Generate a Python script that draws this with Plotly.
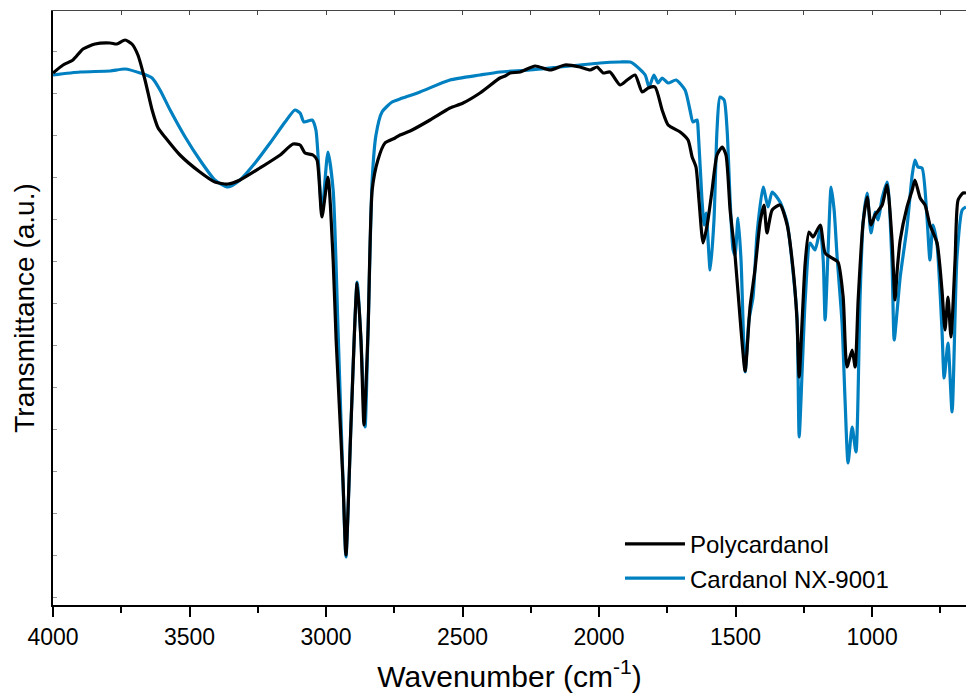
import plotly.graph_objects as go

# Polycardanol (black)
poly_wn = [4000, 3963, 3927, 3890, 3846, 3791, 3766, 3736, 3711, 3689, 3663, 3637, 3615, 3590,
           3535, 3462, 3407, 3359, 3315, 3242, 3168, 3121, 3095, 3077, 3048, 3033, 3015, 2993,
           2974, 2963, 2938, 2927, 2908, 2886, 2872, 2861, 2846, 2831, 2810, 2784, 2747, 2729,
           2692, 2619, 2546, 2498, 2436, 2363, 2344, 2326, 2289, 2234, 2179, 2125, 2070, 2033,
           2007, 1985, 1960, 1923, 1897, 1868, 1842, 1820, 1795, 1769, 1747, 1703, 1674, 1659,
           1645, 1634, 1619, 1604, 1586, 1568, 1549, 1535, 1520, 1502, 1480, 1465, 1447, 1429,
           1410, 1396, 1385, 1366, 1337, 1311, 1289, 1275, 1267, 1256, 1245, 1231, 1216, 1190,
           1172, 1147, 1125, 1106, 1092, 1073, 1062, 1051, 1033, 1018, 1004, 989, 963, 945,
           927, 916, 908, 897, 872, 853, 843, 824, 806, 788, 762, 744, 733, 722, 711, 696, 685,
           667, 656]
poly_t = [532, 540, 545, 556, 561, 562, 561, 565, 561, 550, 525, 495, 477, 468,
          450, 433, 423, 421, 425, 437, 450, 461, 460, 452, 450, 445, 388, 428,
          345, 265, 125, 50, 185, 322, 265, 180, 275, 415, 445, 462, 467, 470,
          474, 485, 497, 502, 512, 527, 529, 532, 533, 539, 535, 540, 538, 535,
          538, 532, 533, 520, 525, 530, 513, 517, 518, 495, 480, 473, 465, 448,
          438, 405, 362, 380, 415, 450, 458, 450, 395, 350, 275, 234, 298, 335,
          383, 400, 372, 395, 400, 380, 335, 285, 228, 285, 342, 373, 368, 380,
          352, 347, 343, 308, 238, 255, 238, 305, 382, 408, 380, 390, 400, 420,
          365, 305, 335, 365, 398, 415, 425, 407, 400, 380, 362, 315, 275, 308, 268, 345, 405,
          412, 412]

# Cardanol NX-9001 (blue)
card_wn = [4000, 3901, 3791, 3736, 3681, 3637, 3608, 3571, 3516, 3462, 3407, 3359, 3315, 3260,
           3205, 3150, 3114, 3095, 3081, 3051, 3037, 3015, 2993, 2974, 2956, 2938, 2927, 2908,
           2886, 2872, 2857, 2846, 2831, 2817, 2795, 2758, 2729, 2656, 2546, 2436, 2363, 2253,
           2143, 2070, 1996, 1923, 1886, 1868, 1831, 1817, 1799, 1784, 1769, 1747, 1718, 1685,
           1667, 1656, 1641, 1637, 1623, 1615, 1608, 1593, 1579, 1568, 1557, 1542, 1531, 1520,
           1509, 1502, 1491, 1480, 1465, 1451, 1436, 1421, 1399, 1381, 1366, 1337, 1311, 1289,
           1275, 1267, 1256, 1245, 1227, 1209, 1190, 1179, 1172, 1161, 1150, 1139, 1128, 1110,
           1099, 1088, 1073, 1059, 1044, 1033, 1018, 1004, 989, 978, 963, 945, 927, 919, 908,
           897, 872, 853, 843, 832, 817, 799, 788, 777, 762, 744, 736, 722, 707, 689, 670, 656]
card_t = [530, 533, 534, 536, 532, 527, 515, 495, 468, 445, 425, 418, 425, 442,
          462, 483, 495, 492, 483, 485, 475, 393, 453, 415, 275, 125, 48, 185,
          323, 265, 178, 275, 425, 470, 493, 503, 506, 513, 525, 530, 533, 535,
          538, 540, 542, 543, 543, 540, 530, 518, 530, 522, 527, 522, 525, 515,
          495, 483, 485, 475, 405, 380, 392, 335, 385, 475, 508, 505, 475, 405,
          355, 350, 387, 345, 233, 285, 308, 372, 418, 398, 413, 403, 382, 332,
          288, 168, 235, 305, 362, 355, 375, 345, 285, 355, 418, 395, 348, 282,
          205, 142, 178, 153, 308, 382, 412, 372, 393, 385, 407, 423, 342, 265, 295,
          328, 378, 430, 445, 438, 437, 388, 345, 380, 360, 275, 227, 262, 193, 348, 395, 398]

series_names = ["Polycardanol", "Cardanol NX-9001"]
series_colors = ["#000000", "#0080C0"]

FONT = "Arial, Liberation Sans, sans-serif"

fig = go.Figure()
fig.add_trace(go.Scatter(x=card_wn, y=card_t, mode="lines", name=series_names[1],
                         line=dict(color=series_colors[1], width=3.2, shape="spline", smoothing=0.6)))
fig.add_trace(go.Scatter(x=poly_wn, y=poly_t, mode="lines", name=series_names[0],
                         line=dict(color=series_colors[0], width=3.2, shape="spline", smoothing=0.6)))
# top mirror axis (ticks inside)
fig.add_trace(go.Scatter(x=[], y=[], xaxis="x2", showlegend=False, hoverinfo="skip"))

fig.update_layout(
    width=966, height=693,
    margin=dict(l=53, r=0, t=11, b=88),
    paper_bgcolor="white", plot_bgcolor="white",
    font=dict(family=FONT, color="black", size=22),
    showlegend=True,
    legend=dict(x=0.621, y=0.14, xanchor="left", yanchor="top",
                traceorder="reversed", bgcolor="rgba(0,0,0,0)",
                font=dict(family=FONT, size=24, color="black"),
                tracegroupgap=0, itemwidth=60),
    xaxis=dict(range=[4000, 656], showgrid=False, zeroline=False,
               showline=True, linecolor="black", linewidth=2,
               ticks="outside", ticklen=10, tickwidth=1.5, tickcolor="black",
               tickvals=[4000, 3500, 3000, 2500, 2000, 1500, 1000],
               ticktext=["4000", "3500", "3000", "2500", "2000", "1500", "1000"],
               minor=dict(dtick=250, tick0=0, ticks="outside", ticklen=6, tickwidth=1.5, tickcolor="black"),
               tickfont=dict(family=FONT, size=23, color="black"),
               title=dict(text="Wavenumber (cm<sup>-1</sup>)", font=dict(family=FONT, size=30, color="black"),
                          standoff=20)),
    xaxis2=dict(range=[4000, 656], overlaying="x", side="top", anchor="y",
                showgrid=False, zeroline=False, showticklabels=False,
                showline=True, linecolor="#444444", linewidth=1,
                ticks="inside", ticklen=4, tickwidth=1, tickcolor="#444444",
                tick0=0, dtick=250),
    yaxis=dict(range=[0, 594], showgrid=False, zeroline=False,
               showline=True, linecolor="black", linewidth=1.5,
               showticklabels=False, ticks="inside", ticklen=4, tickwidth=1,
               tickcolor="#999999", tick0=8, dtick=42,
               title=dict(text="Transmittance (a.u.)", font=dict(family=FONT, size=28, color="black"),
                          standoff=8)),
)

fig.write_html("out.html")
